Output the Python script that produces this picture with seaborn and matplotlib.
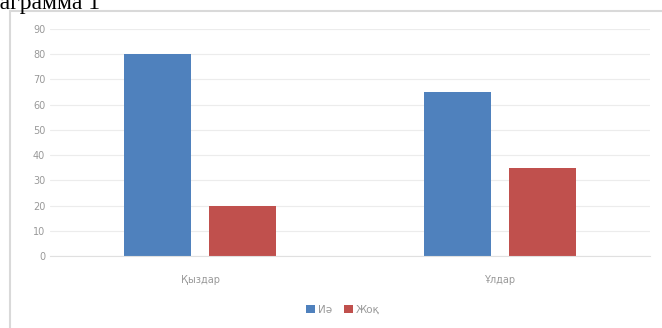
import pandas as pd
import seaborn as sns
import matplotlib.pyplot as plt
from matplotlib.patches import Rectangle

categories = ["Қыздар", "Ұлдар"]
answers = ["Иә", "Жоқ"]
yes_values = [80, 65]
no_values = [20, 35]

df = pd.DataFrame({
    "group": categories * 2,
    "answer": [answers[0]] * 2 + [answers[1]] * 2,
    "value": yes_values + no_values,
})

sns.set_style("white")
plt.rcParams["font.family"] = ["DejaVu Sans"]

fig = plt.figure(figsize=(6.62, 3.28), dpi=100)

# outer chart frame (continues past the page edge)
fig.patches.append(Rectangle((10 / 662, -0.1), 1.0, 1.1 - 11 / 328,
                             transform=fig.transFigure, fill=False,
                             edgecolor="#d9d9d9", linewidth=1.5))

# caption cut off at the top-left
fig.text(-29 / 662, 1 - 9 / 328, "Диаграмма 1", family="Liberation Serif",
         fontsize=17, va="baseline", ha="left", color="black")

ax = fig.add_axes([50 / 662, 72 / 328, 600 / 662, 227 / 328])
sns.barplot(data=df, x="group", y="value", hue="answer",
            palette=["#4f81bd", "#c0504d"], width=0.567, gap=0.22,
            linewidth=0, ax=ax, saturation=1, legend=True)

ax.set_ylim(0, 90)
ax.set_xlim(-0.5, 1.5)
ax.set_yticks(range(0, 91, 10))
ax.yaxis.grid(True, color="#ececec", linewidth=0.8)
ax.set_axisbelow(True)
for s in ["top", "right", "left"]:
    ax.spines[s].set_visible(False)
ax.spines["bottom"].set_color("#e0e0e0")
ax.tick_params(axis="both", length=0, labelsize=7, labelcolor="#999999")
ax.tick_params(axis="x", pad=14)
ax.set_xlabel("")
ax.set_ylabel("")

leg = ax.legend(loc="center", bbox_to_anchor=(343 / 662, 18 / 328),
                bbox_transform=fig.transFigure, ncol=2, frameon=False,
                fontsize=7.5, handlelength=0.8, handleheight=0.8,
                handletextpad=0.3, columnspacing=1.2)
for t in leg.get_texts():
    t.set_color("#999999")

fig.savefig("out.png", dpi=100)
